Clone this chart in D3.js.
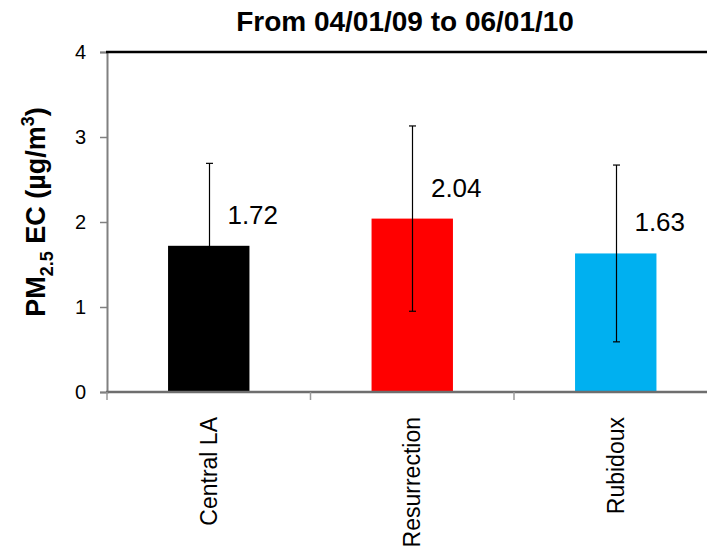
<!DOCTYPE html>
<html>
<head>
<meta charset="utf-8">
<script src="https://cdn.jsdelivr.net/npm/d3@7"></script>
<style>
  html, body { margin: 0; padding: 0; background: #fff; }
  svg { display: block; }
  text { font-family: "Liberation Sans", Arial, sans-serif; }
</style>
</head>
<body>
<svg id="chart" width="707" height="552"></svg>
<script>
const categories = ["Central LA", "Resurrection", "Rubidoux"];
const values = [1.72, 2.04, 1.63];
const errors = [0.97, 1.09, 1.04];
const colors = ["#000000", "#ff0000", "#00b0f0"];
const yTicks = [0, 1, 2, 3, 4];
const title = "From 04/01/09 to 06/01/10";

(function () {
const svg = d3.select("#chart");
const W = 707, H = 552;
const mLeft = 107, mTop = 52, mBottom = 392;
const step = 203.5;

const x = d3.scaleBand().domain(categories).range([mLeft, mLeft + step * categories.length]).paddingInner(0.6).paddingOuter(0.3);
const y = d3.scaleLinear().domain([0, 4]).range([mBottom, mTop]);

// bars
svg.selectAll("rect.bar").data(categories).join("rect")
  .attr("class", "bar")
  .attr("x", d => x(d))
  .attr("width", x.bandwidth())
  .attr("y", (d, i) => y(values[i]))
  .attr("height", (d, i) => y(0) - y(values[i]))
  .attr("fill", (d, i) => colors[i]);

// error bars
const eg = svg.append("g").attr("stroke", "#000").attr("stroke-width", 1.2);
categories.forEach((c, i) => {
  const cx = Math.round(x(c) + x.bandwidth() / 2) + 0.5;
  const y1 = y(values[i] + errors[i]);
  const y2 = y(values[i] - errors[i]);
  eg.append("line").attr("x1", cx).attr("x2", cx).attr("y1", y1).attr("y2", y2);
  eg.append("line").attr("x1", cx - 3.5).attr("x2", cx + 3.5).attr("y1", y1).attr("y2", y1);
  eg.append("line").attr("x1", cx - 3.5).attr("x2", cx + 3.5).attr("y1", y2).attr("y2", y2);
});

// data labels
svg.selectAll("text.val").data(categories).join("text")
  .attr("class", "val")
  .attr("x", d => x(d) + x.bandwidth() / 2 + 44)
  .attr("y", (d, i) => y(values[i]) - 22)
  .attr("text-anchor", "middle")
  .attr("font-size", 26)
  .attr("fill", "#000")
  .text((d, i) => values[i].toFixed(2));

// y axis
const yAxis = svg.append("g").attr("transform", `translate(${mLeft},0)`)
  .call(d3.axisLeft(y).tickValues(yTicks).tickSize(7).tickPadding(14).tickFormat(d3.format("d")));
yAxis.select(".domain").attr("stroke", "#808080").attr("stroke-width", 2);
yAxis.selectAll(".tick line").attr("stroke", "#808080").attr("stroke-width", 1.5);
yAxis.selectAll(".tick text").attr("font-size", 20).attr("fill", "#000")
  .attr("font-family", "Liberation Sans, Arial, sans-serif");

// x axis
const xAxis = svg.append("g").attr("transform", `translate(0,${mBottom})`);
xAxis.append("line").attr("x1", mLeft - 1).attr("x2", W).attr("y1", 0).attr("y2", 0)
  .attr("stroke", "#6e6e6e").attr("stroke-width", 2.5);
const bounds = d3.range(categories.length + 1).map(i => mLeft + i * step);
xAxis.selectAll("line.tk").data(bounds).join("line")
  .attr("class", "tk")
  .attr("x1", d => d).attr("x2", d => d).attr("y1", 0).attr("y2", 8)
  .attr("stroke", "#9a9a9a").attr("stroke-width", 1.5);
xAxis.selectAll("text.cat").data(categories).join("text")
  .attr("class", "cat")
  .attr("transform", d => `translate(${x(d) + x.bandwidth() / 2 + 8},${25}) rotate(-90)`)
  .attr("text-anchor", "end")
  .attr("font-size", 23)
  .attr("fill", "#000")
  .text(d => d);

// top border
svg.append("line").attr("x1", mLeft - 1).attr("x2", W).attr("y1", mTop).attr("y2", mTop)
  .attr("stroke", "#000").attr("stroke-width", 2.5);

// title
svg.append("text").attr("x", 405).attr("y", 31).attr("text-anchor", "middle")
  .attr("font-size", 28).attr("font-weight", "bold").attr("fill", "#000").text(title);

// y label
const yl = svg.append("text")
  .attr("transform", `translate(45,212) rotate(-90)`)
  .attr("text-anchor", "middle")
  .attr("font-size", 27).attr("font-weight", "bold").attr("fill", "#000");
yl.append("tspan").text("PM");
yl.append("tspan").attr("font-size", 18).attr("dy", 8).text("2.5");
yl.append("tspan").attr("dy", -8).text(" EC (µg/m");
yl.append("tspan").attr("font-size", 18).attr("dy", -11).text("3");
yl.append("tspan").attr("dy", 11).text(")");
})();
</script>
</body>
</html>
